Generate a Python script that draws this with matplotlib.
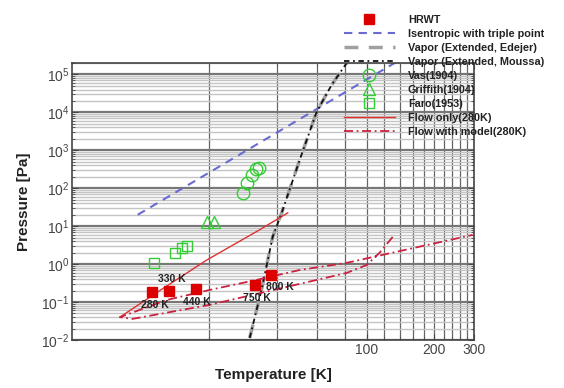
import matplotlib
matplotlib.use("Agg")
import matplotlib.pyplot as plt
import numpy as np

plt.rcParams['font.family'] = ['Liberation Sans', 'DejaVu Sans']
plt.rcParams['mathtext.fontset'] = 'custom'
plt.rcParams['mathtext.rm'] = 'Liberation Sans'
plt.rcParams['mathtext.it'] = 'Liberation Sans:italic'
plt.rcParams['mathtext.bf'] = 'Liberation Sans:bold'

# ---- data ----
hrwt_T = [11.1, 13.2, 17.4, 31.8, 37.4]
hrwt_P = [0.185, 0.196, 0.222, 0.283, 0.519]
hrwt_labels = ["280 K", "330 K", "440 K", "750 K", "800 K"]

isen_T = [9.6, 135.0]
isen_P = [20.0, 2.1e5]

vapor_T = [30.2, 34.1, 38.2, 41.9, 50.4, 60.0, 69.9, 81.5]
vapor_P = [0.0113, 0.21, 5.2, 22.4, 560, 1.05e4, 5.3e4, 2.0e5]

vas_T = [28.1, 29.3, 30.8, 32.1, 33.1]
vas_P = [75.7, 139, 226, 325, 345]

griffith_T = [19.6, 20.9]
griffith_P = [13.0, 13.0]

faro_T = [11.4, 14.0, 15.1, 15.85]
faro_P = [1.07, 1.97, 2.67, 3.0]

flow_T = [44.6, 33.4, 19.5, 12.6, 8.0]
flow_P = [22.4, 8.0, 1.29, 0.24, 0.040]

model_T = [130.5, 114, 100, 81.5, 20.0, 9.1, 8.0, 12.9, 20.0, 32.4, 50.4, 81.5, 296]
model_P = [5.2, 1.98, 0.95, 0.586, 0.084, 0.036, 0.040, 0.113, 0.208, 0.383, 0.70, 1.08, 5.9]

xticks_major = [100, 200, 300]
xgrid_minor = [20, 40, 60, 80, 120, 140, 160, 180, 220, 240, 260, 280]

# ---- figure ----
fig = plt.figure(figsize=(5.64, 3.88), dpi=100)
ax = fig.add_axes([72/564, 1-340/388, (474-72)/564, (340-63)/388])
ax.set_xscale('log')
ax.set_yscale('log')
ax.set_xlim(4.9, 300)
ax.set_ylim(1e-2, 2e5)

ax.set_xticks(xticks_major)
ax.set_xticklabels([str(v) for v in xticks_major])
ax.set_xticks(xgrid_minor, minor=True)
ax.set_xticklabels([], minor=True)
ax.yaxis.set_major_locator(matplotlib.ticker.LogLocator(base=10, numticks=20))
ax.yaxis.set_minor_locator(matplotlib.ticker.LogLocator(base=10, subs=np.arange(2, 10), numticks=20))
ax.yaxis.set_minor_formatter(matplotlib.ticker.NullFormatter())

ax.grid(True, which='minor', axis='y', color='#c4c4c4', lw=1.0)
ax.grid(True, which='major', axis='y', color='#777777', lw=1.6)
ax.grid(True, which='both', axis='x', color='#666666', lw=0.9)
ax.set_axisbelow(True)

ax.tick_params(which='both', direction='in', colors='#444444', labelsize=10, top=True, right=True, pad=2)
ax.tick_params(which='major', length=4)
ax.tick_params(which='minor', length=2)
for s in ax.spines.values():
    s.set_color('#444444')
    s.set_linewidth(1.2)

h_hrwt, = ax.plot(hrwt_T, hrwt_P, 's', color='#dd0000', ms=7, ls='none', label='HRWT', zorder=6)
h_isen, = ax.plot(isen_T, isen_P, color='#6a6ad0', lw=1.5, dashes=(4, 3), label='Isentropic with triple point')
h_ed, = ax.plot(vapor_T, vapor_P, color='#a0a0a0', lw=2.5, dashes=(4, 3), label='Vapor (Extended, Edejer)')
h_mo, = ax.plot(vapor_T, vapor_P, color='#111111', lw=1.3, dashes=(3, 2, 1, 2), label='Vapor (Extended, Moussa)')
h_vas, = ax.plot(vas_T, vas_P, 'o', mfc='none', mec='#33cc33', mew=1.0, ms=9, ls='none', label='Vas(1904)')
h_gr, = ax.plot(griffith_T, griffith_P, '^', mfc='none', mec='#33cc33', mew=1.0, ms=8, ls='none', label='Griffith(1904)')
h_fa, = ax.plot(faro_T, faro_P, 's', mfc='none', mec='#33cc33', mew=1.0, ms=7, ls='none', label='Faro(1953)')
h_fl, = ax.plot(flow_T, flow_P, color='#e03030', lw=1.0, label='Flow only(280K)')
h_mod, = ax.plot(model_T, model_P, color='#cc2040', lw=1.3, dashes=(5, 2, 1, 2), label='Flow with model(280K)')

offsets = [(2, -9.4), (2, 8.6), (1, -9.4), (1.4, -9.4), (6.5, -8.6)]
for t, p, lab, (dx, dy) in zip(hrwt_T, hrwt_P, hrwt_labels, offsets):
    ax.annotate(lab, (t, p), xytext=(dx, dy), textcoords='offset points',
                fontsize=7.5, fontweight='bold', color='#222222', ha='center', va='center', zorder=7)

ax.set_xlabel('Temperature [K]', fontsize=11, fontweight='bold', color='#222222', labelpad=8)
ax.set_ylabel('Pressure [Pa]', fontsize=11, fontweight='bold', color='#222222', labelpad=7)

leg = fig.legend(handles=[h_hrwt, h_isen, h_ed, h_mo, h_vas, h_gr, h_fa, h_fl, h_mod],
                 loc='upper left', bbox_to_anchor=(344/564, 1-15/388), frameon=False,
                 fontsize=7.8, numpoints=1, handlelength=4.7, handletextpad=1.2,
                 labelspacing=0.37, borderpad=0, borderaxespad=0)
for t in leg.get_texts():
    t.set_fontweight('bold')
    t.set_color('#222222')

fig.savefig('out.png', dpi=100)
